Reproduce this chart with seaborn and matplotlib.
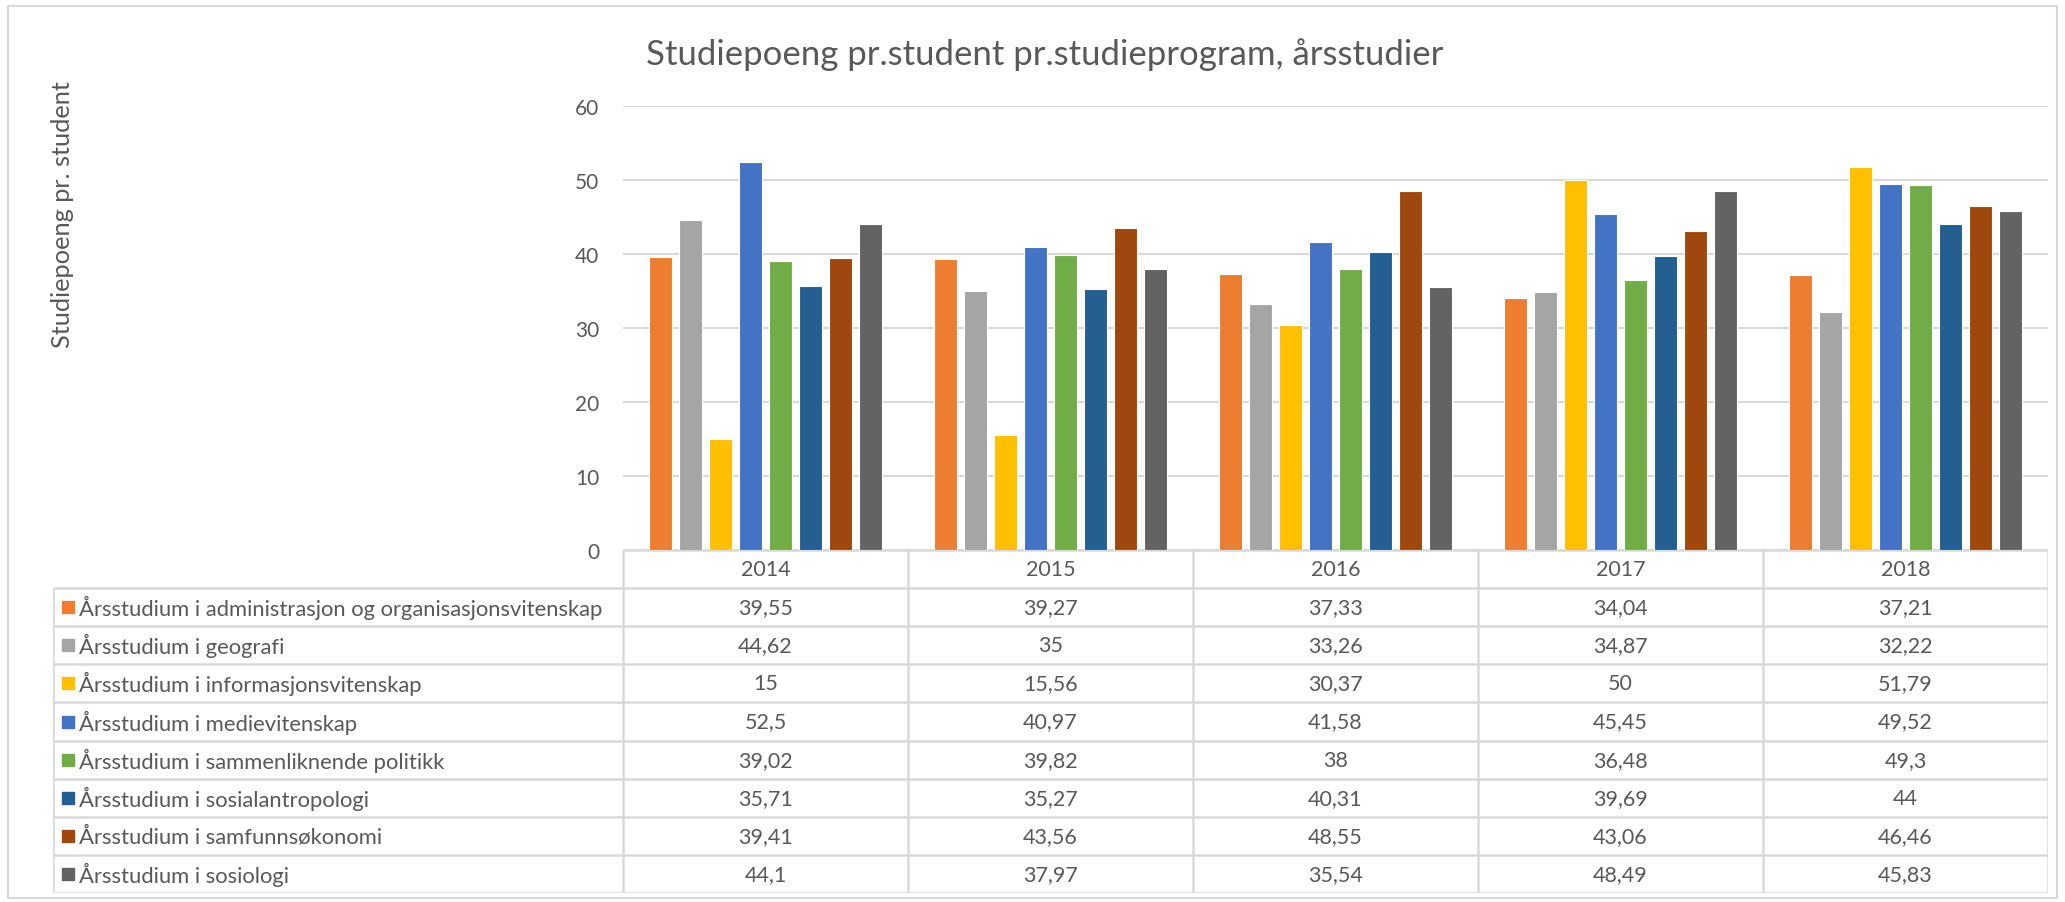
import pandas as pd
import numpy as np
import matplotlib
matplotlib.use("Agg")
import matplotlib.pyplot as plt
import seaborn as sns
from matplotlib.patches import Rectangle

years = ['2014', '2015', '2016', '2017', '2018']
programs = [
    'Årsstudium i administrasjon og organisasjonsvitenskap',
    'Årsstudium i geografi',
    'Årsstudium i informasjonsvitenskap',
    'Årsstudium i medievitenskap',
    'Årsstudium i sammenliknende politikk',
    'Årsstudium i sosialantropologi',
    'Årsstudium i samfunnsøkonomi',
    'Årsstudium i sosiologi',
]
administrasjon = [39.55, 39.27, 37.33, 34.04, 37.21]
geografi = [44.62, 35, 33.26, 34.87, 32.22]
informasjon = [15, 15.56, 30.37, 50, 51.79]
medie = [52.5, 40.97, 41.58, 45.45, 49.52]
sammenliknende = [39.02, 39.82, 38, 36.48, 49.3]
sosialantropologi = [35.71, 35.27, 40.31, 39.69, 44]
samfunnsokonomi = [39.41, 43.56, 48.55, 43.06, 46.46]
sosiologi = [44.1, 37.97, 35.54, 48.49, 45.83]
series = [administrasjon, geografi, informasjon, medie, sammenliknende,
          sosialantropologi, samfunnsokonomi, sosiologi]

colors = ['#ED7D31', '#A5A5A5', '#FFC000', '#4472C4', '#70AD47',
          '#255E91', '#9E480E', '#636363']
text_col = '#595959'
line_col = '#D9D9D9'

rows = []
for prog, vals in zip(programs, series):
    for yr, v in zip(years, vals):
        rows.append({'år': yr, 'program': prog, 'verdi': v})
df = pd.DataFrame(rows)

sns.set_style('white')
plt.rcParams['font.family'] = ['Lato', 'DejaVu Sans']

W, H = 2065, 903
fig = plt.figure(figsize=(W / 100, H / 100), dpi=100)

# chart frame
fig.patches.append(Rectangle((8 / W, 4 / H), 2049 / W, 892 / H, transform=fig.transFigure,
                             fill=False, edgecolor=line_col, linewidth=1.5))

ax = fig.add_axes([623 / W, 1 - 551 / H, 1425 / W, 444 / H])
sns.barplot(data=df, x='år', y='verdi', hue='program', hue_order=programs, order=years,
            palette=colors, saturation=1, width=0.842, gap=0.233, edgecolor='white',
            linewidth=0.8, legend=False, ax=ax)
ax.set_xlim(-0.5, 4.5)
ax.set_ylim(0, 60)
ax.set_yticks(range(0, 61, 10))
ax.yaxis.grid(True, color=line_col, linewidth=1.5)
ax.set_axisbelow(True)
for s in ax.spines.values():
    s.set_visible(False)
ax.set_xticks([])
ax.set_xlabel('')
ax.set_ylabel('')
ax.tick_params(axis='y', length=0, pad=17, labelsize=15, labelcolor=text_col)

fig.text(1045 / W, 1 - 55 / H, 'Studiepoeng pr.student pr.studieprogram, årsstudier',
         ha='center', va='center', fontsize=25, color=text_col)
fig.text(63 / W, 1 - 215 / H, 'Studiepoeng pr. student', rotation=90,
         ha='center', va='center', fontsize=18.3, color=text_col)

# data table below the chart
tab = fig.add_axes([53 / W, 1 - 894 / H, 1995 / W, 343 / H])
tab.set_xlim(-2.5, 4.5)
tab.set_ylim(9, 0)
tab.axis('off')
lw = 1.8
tab.plot([-0.5, 4.5], [0, 0], color=line_col, lw=lw, solid_capstyle='butt')
for r in range(1, 10):
    tab.plot([-2.5, 4.5], [r, r], color=line_col, lw=lw, solid_capstyle='butt')
tab.plot([-2.5, -2.5], [1, 9], color=line_col, lw=lw, solid_capstyle='butt')
for c in np.arange(-0.5, 5, 1):
    tab.plot([c, c], [0, 9], color=line_col, lw=lw, solid_capstyle='butt')

for i, yr in enumerate(years):
    tab.text(i, 0.5, yr, ha='center', va='center', fontsize=15.5, color=text_col)
for r, (prog, vals, col) in enumerate(zip(programs, series, colors)):
    y = r + 1.5
    tab.plot([-2.447], [y], marker='s', markersize=8, color=col, linestyle='none')
    tab.text(-2.41, y, prog, ha='left', va='center', fontsize=15.8, color=text_col)
    for i, v in enumerate(vals):
        tab.text(i, y, f'{v:g}'.replace('.', ','), ha='center', va='center',
                 fontsize=15.5, color=text_col)

fig.savefig('out.png', dpi=100)
